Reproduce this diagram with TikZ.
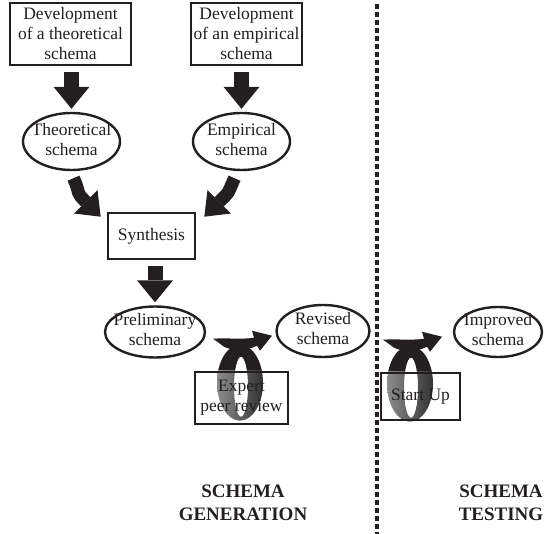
\documentclass[tikz,border=0pt]{standalone}
\usepackage{fontspec}
\setmainfont{Liberation Serif}
\usetikzlibrary{arrows.meta,shapes.geometric,calc}
\definecolor{ink}{RGB}{35,31,32}
\pgfdeclarelayer{background}
\pgfsetlayers{background,main}
\newcommand{\elltext}[1]{\makebox[0pt]{\smash{\raisebox{-4pt}{\begin{tabular}[c]{@{}c@{}}#1\end{tabular}}}}}
\newcommand{\looparrow}[1]{%
  \begin{scope}[shift={(#1)}]
    \begin{scope}
      \clip (-40,-60) rectangle (40,0);
      \fill[ink, even odd rule] (0,12) ellipse [x radius=23, y radius=38] (1,16) ellipse [x radius=7, y radius=30];
    \end{scope}
    \begin{scope}
      \clip (-40,0) rectangle (40,60);
      \shade[even odd rule, left color=black!45, middle color=black!12, right color=black!80] (0,12) ellipse [x radius=23, y radius=38] (1,16) ellipse [x radius=7, y radius=30];
    \end{scope}
    \fill[ink] (-27,-32) .. controls (-12,-33) and (0,-31) .. (14,-33) -- (12,-40) -- (32,-35) -- (20,-20) -- (17,-25) .. controls (5,-19) and (-8,-20) .. (-16,-24) .. controls (-20,-27) .. (-27,-32) -- cycle;
  \end{scope}}
\begin{document}
\begin{tikzpicture}[x=1pt, y=-1pt, font=\fontsize{17.5}{20}\selectfont, text=ink,
  box/.style={draw=ink, line width=2.6pt, rectangle, align=center, inner sep=0pt},
  ell/.style={draw=ink, line width=2.4pt, ellipse, inner sep=0pt},
  downarrow/.style={draw=ink, line width=15pt, -{Triangle[width=36pt,length=22pt,line width=0pt]}, shorten <=6pt, shorten >=3pt},
  curvearrow/.style={draw=ink, line width=13pt, -{Triangle[width=33pt,length=21pt,line width=0pt]}},
  sepline/.style={draw=ink, line width=3.5pt, dash pattern=on 5pt off 3pt},
  lbl/.style={font=\bfseries\fontsize{19}{23}\selectfont, align=center}]
\useasboundingbox (0,0) rectangle (551,534);
\node[box, minimum width=121pt, minimum height=62pt] (dev1) at (70.5,34) {Development\\of a theoretical\\schema};
\node[box, minimum width=111pt, minimum height=62pt] (dev2) at (246.5,34) {Development\\of an empirical\\schema};
\node[ell, minimum width=97pt, minimum height=57pt] (th) at (71.5,141.5) {\elltext{Theoretical\\schema}};
\node[ell, minimum width=97pt, minimum height=57pt] (emp) at (241.5,141.5) {\elltext{Empirical\\schema}};
\node[box, minimum width=87pt, minimum height=46pt] (syn) at (151.5,236) {Synthesis};
\node[ell, minimum width=100pt, minimum height=51pt] (prel) at (155,332) {\elltext{Preliminary\\schema}};
\node[ell, minimum width=93pt, minimum height=52pt] (rev) at (323,331) {\elltext{Revised\\schema}};
\node[ell, minimum width=88pt, minimum height=50pt] (imp) at (498,332) {\elltext{Improved\\schema}};
\node[box, minimum width=93pt, minimum height=52pt] (exp) at (241.5,398) {Expert\\peer review};
\node[box, minimum width=79pt, minimum height=47pt] (su) at (420.5,396.5) {Start Up};
\node[lbl] (gen) at (243,503) {SCHEMA\\GENERATION};
\node[lbl] (test) at (501,503) {SCHEMA\\TESTING};
\coordinate (dtop) at (377,4);
\coordinate (dbot) at (377,534);
\draw[sepline] (dtop) -- (dbot);
\draw[downarrow] (dev1.south -| th.north) -- (th.north);
\draw[downarrow] (dev2.south -| emp.north) -- (emp.north);
\draw[downarrow] (syn.south -| prel.north) -- (prel.north);
\draw[curvearrow] ($(th.south)+(2,7)$) .. controls +(8,18) and +(-26,-26) .. ($(syn.north west)+(-6,5)$);
\draw[curvearrow] ($(emp.south)+(-7,7)$) .. controls +(-8,18) and +(26,-26) .. ($(syn.north east)+(8,5)$);
\coordinate (loopA) at ($(exp.north)+(-1.5,0)$);
\coordinate (loopB) at ($(su.north)+(-10.5,0)$);
\begin{pgfonlayer}{background}
\looparrow{loopA}
\looparrow{loopB}
\end{pgfonlayer}
\end{tikzpicture}
\end{document}
